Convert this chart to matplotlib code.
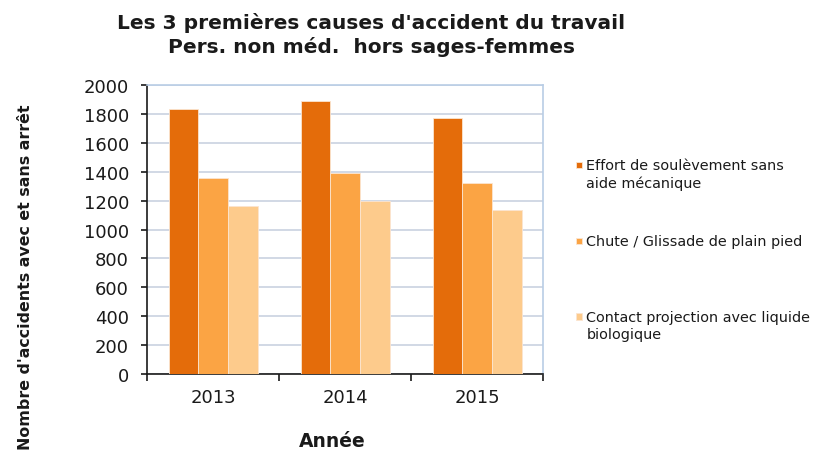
import matplotlib.pyplot as plt
import numpy as np
from matplotlib.legend_handler import HandlerPatch
from matplotlib.patches import Rectangle

YEARS = ["2013", "2014", "2015"]
CAUSES = [
    "Effort de soulèvement sans\naide mécanique",
    "Chute / Glissade de plain pied\n ",
    "Contact projection avec liquide\nbiologique",
]
EFFORT = [1835, 1887, 1772]
CHUTE = [1355, 1393, 1325]
CONTACT = [1165, 1197, 1135]

COLORS = ["#E46C0A", "#FBA444", "#FDCB8C"]
GRID = "#C9D2E0"
BORDER = "#B9CDE5"
INK = "#1A1A1A"


def top_square(legend, orig_handle, xdescent, ydescent, width, height, fontsize):
    # Excel puts the key beside the first line of a wrapped label
    size = 0.42 * fontsize
    x0 = -xdescent + (width - size) / 2
    y0 = -ydescent + (height - size) / 2 + 0.65 * fontsize
    return Rectangle((x0, y0), size, size)


def main():
    fig = plt.figure(figsize=(8.13, 4.56), dpi=100, facecolor="white")
    ax = fig.add_axes([0.181, 0.178, 0.487, 0.633])

    x = np.arange(len(YEARS))
    width = 0.225
    series = [EFFORT, CHUTE, CONTACT]
    handles = []
    for i, (values, color) in enumerate(zip(series, COLORS)):
        bars = ax.bar(x + (i - 1) * width, values, width, color=color,
                      edgecolor="#FBE5D0", linewidth=0.6, zorder=3)
        handles.append(bars.patches[0])

    ax.set_xlim(-0.5, len(YEARS) - 0.5)
    ax.set_ylim(0, 2000)
    ax.set_yticks(np.arange(0, 2001, 200))
    ax.set_xticks(x, YEARS)
    ax.set_xticks(np.arange(-0.5, len(YEARS), 1.0), minor=True)
    ax.tick_params(axis="x", which="major", length=0, labelsize=13, pad=10, colors=INK)
    ax.tick_params(axis="x", which="minor", length=5, width=1.2, color=INK)
    ax.tick_params(axis="y", length=4, width=1.2, labelsize=13, colors=INK, pad=9)
    ax.grid(axis="y", color=GRID, linewidth=1.2, zorder=0)

    ax.spines["left"].set_color(INK)
    ax.spines["left"].set_linewidth(1.2)
    ax.spines["bottom"].set_color(INK)
    ax.spines["bottom"].set_linewidth(1.2)
    for side in ["top", "right"]:
        ax.spines[side].set_color(BORDER)
        ax.spines[side].set_linewidth(1.2)

    ax.set_xlabel("Année", fontsize=13.5, fontweight="bold", color=INK)
    ax.xaxis.set_label_coords(0.467, -0.197)
    ax.set_ylabel("Nombre d'accidents avec et sans arrêt", fontsize=11.4,
                  fontweight="bold", color=INK)
    ax.yaxis.set_label_coords(-0.288, 0.338)

    fig.text(0.457, 0.972, "Les 3 premières causes d'accident du travail\n"
             "Pers. non méd.  hors sages-femmes", ha="center", va="top",
             fontsize=14.5, fontweight="bold", color=INK, linespacing=1.25)

    leg = fig.legend(handles, CAUSES, loc="upper left", bbox_to_anchor=(0.7, 0.663),
                     frameon=False, fontsize=10.4, handlelength=0.6, handleheight=0.6,
                     handletextpad=0.2, labelspacing=3.05, borderaxespad=0,
                     handler_map={Rectangle: HandlerPatch(patch_func=top_square)})
    for text in leg.get_texts():
        text.set_linespacing(1.3)
        text.set_color(INK)

    fig.savefig("out.png", dpi=100, facecolor="white")
    plt.close(fig)


if __name__ == "__main__":
    main()
